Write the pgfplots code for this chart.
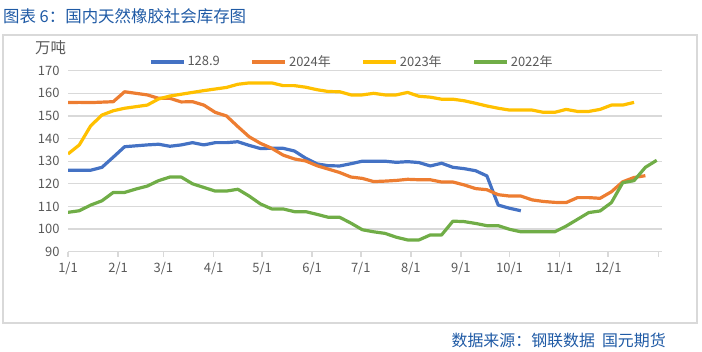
\documentclass[border=0pt]{standalone}
\usepackage{pgfplots}
\pgfplotsset{compat=1.18}
\usepackage{pgfplotstable}
\usepackage{fontspec}
\setmainfont{Noto Sans CJK SC}
\definecolor{sblue}{HTML}{4472C4}
\definecolor{sorange}{HTML}{ED7D31}
\definecolor{syellow}{HTML}{FFC000}
\definecolor{sgreen}{HTML}{70AD47}
\definecolor{gridgray}{HTML}{D9D9D9}
\definecolor{txtgray}{HTML}{595959}
\definecolor{titleblue}{RGB}{31,90,165}

\pgfplotstableread{
w v
0 126.0
1 126.0
2 126.0
3 127.3
4 131.8
5 136.4
6 136.8
7 137.2
8 137.5
9 136.6
10 137.2
11 138.2
12 137.2
13 138.2
14 138.2
15 138.6
16 137.0
17 135.6
18 135.7
19 135.7
20 134.5
21 131.3
22 128.8
23 128.0
24 127.9
25 128.9
26 130.0
27 130.0
28 130.0
29 129.5
30 129.8
31 129.4
32 127.9
33 129.1
34 127.3
35 126.7
36 125.8
37 123.5
38 110.6
39 109.2
40 108.1
}\tblA

\pgfplotstableread{
w v
0 155.9
1 156.0
2 155.9
3 156.1
4 156.3
5 160.7
6 160.0
7 159.3
8 157.8
9 157.8
10 156.2
11 156.3
12 154.8
13 151.6
14 150.0
15 145.3
16 140.8
17 137.9
18 135.7
19 132.7
20 131.0
21 130.1
22 128.0
23 126.5
24 125.0
25 123.0
26 122.4
27 121.0
28 121.2
29 121.5
30 122.0
31 121.8
32 121.8
33 120.8
34 120.8
35 119.5
36 117.9
37 117.4
38 115.2
39 114.6
40 114.6
41 112.9
42 112.2
43 111.8
44 111.7
45 113.9
46 113.9
47 113.6
48 116.5
49 120.9
50 122.8
51 123.6
}\tblB

\pgfplotstableread{
w v
0 133.2
1 137.2
2 145.6
3 150.4
4 152.3
5 153.4
6 154.1
7 154.8
8 157.5
9 158.8
10 159.6
11 160.4
12 161.2
13 161.9
14 162.6
15 164.0
16 164.6
17 164.6
18 164.6
19 163.4
20 163.4
21 162.7
22 161.6
23 160.8
24 160.7
25 159.3
26 159.3
27 160.0
28 159.3
29 159.3
30 160.4
31 158.7
32 158.3
33 157.4
34 157.4
35 156.7
36 155.6
37 154.4
38 153.4
39 152.6
40 152.6
41 152.6
42 151.6
43 151.6
44 152.9
45 152.0
46 152.0
47 152.9
48 154.8
49 154.8
50 156.0
}\tblC

\pgfplotstableread{
w v
0 107.4
1 108.1
2 110.6
3 112.5
4 116.2
5 116.2
6 117.7
7 119.0
8 121.4
9 123.0
10 123.0
11 120.0
12 118.4
13 116.8
14 116.8
15 117.6
16 114.6
17 111.1
18 108.9
19 108.9
20 107.7
21 107.7
22 106.5
23 105.2
24 105.2
25 102.6
26 99.7
27 98.8
28 98.1
29 96.4
30 95.2
31 95.2
32 97.4
33 97.4
34 103.5
35 103.3
36 102.5
37 101.5
38 101.5
39 99.9
40 98.8
41 98.8
42 98.8
43 98.8
44 101.3
45 104.3
46 107.3
47 108.0
48 111.7
49 120.5
50 121.4
51 127.3
52 130.4
}\tblD

\begin{document}
\begin{tikzpicture}[x=1bp,y=1bp]
\path[use as bounding box] (0,0) rectangle (702,351);
\draw[gridgray, line width=1.5bp] (3,28) rectangle (697,316);
\node[anchor=west, inner sep=0pt, text=titleblue, font=\fontsize{16.5}{18}\selectfont] at (3,335) {图表 6：国内天然橡胶社会库存图};
\node[anchor=east, inner sep=0pt, text=titleblue, font=\fontsize{16}{18}\selectfont] at (666,11) {数据来源：钢联数据\hspace{7bp}国元期货};
\node[anchor=west, inner sep=0pt, text=txtgray, font=\fontsize{15.5}{17}\selectfont] at (35,303) {万吨};
\begin{axis}[
  at={(68bp,99.3bp)}, anchor=south west,
  scale only axis, width=594bp, height=181bp,
  xmin=0, xmax=52.47, ymin=90, ymax=170,
  ytick={90,100,...,170},
  xtick={0,4.43,8.43,12.86,17.14,21.57,25.86,30.29,34.71,39,43.43,47.71,52.14},
  xticklabels={1/1,2/1,3/1,4/1,5/1,6/1,7/1,8/1,9/1,10/1,11/1,12/1,{}},
  axis x line*=bottom, axis y line*=left,
  y axis line style={draw=none},
  x axis line style={-, draw=gridgray, line width=1.5bp},
  ytick style={draw=none},
  xtick style={draw=gridgray, line width=1.5bp},
  tick align=outside, major tick length=5bp,
  ymajorgrids, grid style={gridgray, line width=1.3bp},
  ticklabel style={font=\fontsize{13}{15}\selectfont, text=txtgray},
  xticklabel style={yshift=-2bp},
  /pgf/number format/assume math mode=true,
  legend columns=4,
  legend style={draw=none, fill=none, at={(0.478,1.048)}, anchor=center,
    font=\fontsize{13}{15}\selectfont, text=txtgray,
    /tikz/every even column/.append style={column sep=29bp}},
  legend image code/.code={\draw[#1] (0bp,0bp) -- (33bp,0bp);},
  every axis plot/.append style={line width=3.2bp, line join=round, no markers},
]
\addplot[sblue] table[x=w,y=v] {\tblA};
\addlegendentry{128.9}
\addplot[sorange] table[x=w,y=v] {\tblB};
\addlegendentry{2024年}
\addplot[syellow] table[x=w,y=v] {\tblC};
\addlegendentry{2023年}
\addplot[sgreen] table[x=w,y=v] {\tblD};
\addlegendentry{2022年}
\end{axis}
\end{tikzpicture}
\end{document}
